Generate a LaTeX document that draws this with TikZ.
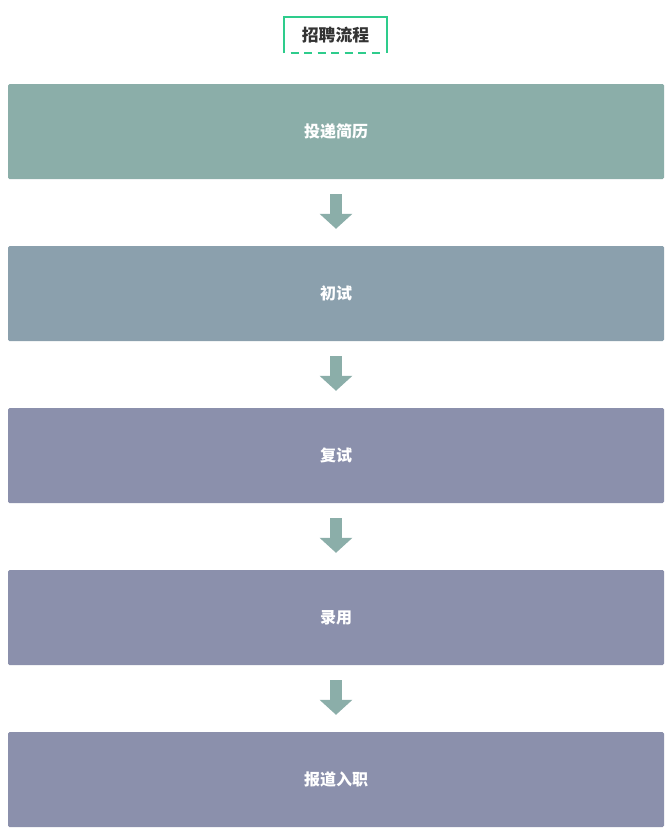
\documentclass[tikz,border=0pt]{standalone}
\usepackage{fontspec}
\newfontfamily\cjk{Noto Sans CJK SC}
\usetikzlibrary{arrows.meta,calc}
\definecolor{tealbox}{HTML}{8BAEA9}
\definecolor{slatebox}{HTML}{8BA0AD}
\definecolor{purplebox}{HTML}{8B90AC}
\definecolor{titlegreen}{HTML}{2ECC8C}
\definecolor{titletext}{HTML}{333333}
\tikzset{
  stepbox/.style={rectangle, rounded corners=1.5pt, minimum width=656pt, minimum height=95pt,
    inner sep=0pt, text=white, font=\cjk\bfseries\fontsize{16}{16}\selectfont},
  flowarrow/.style={draw=tealbox, line width=12pt, shorten <=15pt, shorten >=17pt,
    -{Triangle[width=32pt,length=15pt]}},
}
\begin{document}
\begin{tikzpicture}[x=1pt,y=-1pt]
\useasboundingbox (0,0) rectangle (672,838);
\fill[white] (0,0) rectangle (672,838);
% title
\node[minimum width=103pt, minimum height=35.6pt, inner sep=0pt, text=titletext,
  font=\cjk\bfseries\fontsize{16.8}{17}\selectfont] (title) at (335.5,35.1) {招聘流程};
\draw[titlegreen, line width=2pt] (title.south west) -- (title.north west) -- (title.north east) -- (title.south east);
\draw[titlegreen, line width=2pt, dash pattern=on 8pt off 5.55pt]
  ($(title.south west)+(6.7,-0.5)$) -- ($(title.south east)+(-7,-0.5)$);
% boxes
\node[stepbox, fill=tealbox]   (b1) at (336,131.5) {投递简历};
\node[stepbox, fill=slatebox]  (b2) at (336,293.5) {初试};
\node[stepbox, fill=purplebox] (b3) at (336,455.5) {复试};
\node[stepbox, fill=purplebox] (b4) at (336,617.5) {录用};
\node[stepbox, fill=purplebox] (b5) at (336,779.5) {报道入职};
% arrows
\draw[flowarrow] (b1) -- (b2);
\draw[flowarrow] (b2) -- (b3);
\draw[flowarrow] (b3) -- (b4);
\draw[flowarrow] (b4) -- (b5);
\end{tikzpicture}
\end{document}
